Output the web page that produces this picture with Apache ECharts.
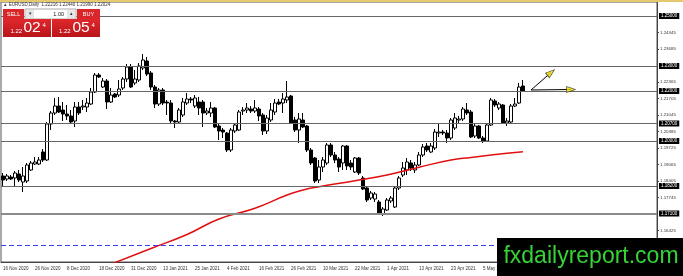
<!DOCTYPE html>
<html>
<head>
<meta charset="utf-8">
<title>EURUSD Daily</title>
<script src="https://cdn.jsdelivr.net/npm/echarts@6/dist/echarts.min.js"></script>
<style>
  html, body { margin: 0; padding: 0; background: #fff; }
  #main { width: 683px; height: 276px; }
</style>
</head>
<body>
<div id="main"></div>
<script>
// daily bars (index 0 = 16 Nov 2020)
var opens = [
  1.1860, 1.1848, 1.1856, 1.1852, 1.1868, 1.1836, 1.1840, 1.1884, 1.1908, 1.1908,
  1.1956, 1.1924, 1.2068, 1.2112, 1.2140, 1.2124, 1.2108, 1.2100, 1.2080, 1.2136,
  1.2136, 1.2136, 1.2148, 1.2196, 1.2264, 1.2216, 1.2240, 1.2156, 1.2188, 1.2184,
  1.2212, 1.2248, 1.2296, 1.2232, 1.2244, 1.2292, 1.2320, 1.2272, 1.2216, 1.2148,
  1.2204, 1.2156, 1.2152, 1.2080, 1.2076, 1.2104, 1.2152, 1.2168, 1.2140, 1.2156,
  1.2156, 1.2112, 1.2112, 1.2132, 1.2060, 1.2044, 1.2032, 1.1964, 1.2040, 1.2044,
  1.2120, 1.2124, 1.2128, 1.2120, 1.2128, 1.2104, 1.2040, 1.2084, 1.2116, 1.2156,
  1.2152, 1.2164, 1.2180, 1.2084, 1.2044, 1.2084, 1.2060, 1.1964, 1.1932, 1.1844,
  1.1896, 1.1912, 1.1984, 1.1944, 1.1928, 1.1912, 1.1980, 1.1912, 1.1876, 1.1932,
  1.1852, 1.1812, 1.1772, 1.1768, 1.1756, 1.1708, 1.1724, 1.1760, 1.1736, 1.1812,
  1.1864, 1.1884, 1.1912, 1.1884, 1.1904, 1.1944, 1.1980, 1.1956, 1.1972, 1.2032,
  1.2036, 1.2032, 1.2012, 1.2052, 1.2084, 1.2088, 1.2124, 1.2116, 1.2020, 1.2060,
  1.2012, 1.2000, 1.2064, 1.2160, 1.2132, 1.2144, 1.2072, 1.2076, 1.2140, 1.2152,
  1.2220
];
var closes = [
  1.1844, 1.1860, 1.1848, 1.1872, 1.1844, 1.1860, 1.1904, 1.1912, 1.1916, 1.1924,
  1.1924, 1.2068, 1.2112, 1.2140, 1.2116, 1.2108, 1.2100, 1.2076, 1.2136, 1.2112,
  1.2140, 1.2152, 1.2196, 1.2264, 1.2256, 1.2240, 1.2156, 1.2184, 1.2176, 1.2208,
  1.2248, 1.2296, 1.2216, 1.2248, 1.2300, 1.2324, 1.2268, 1.2216, 1.2148, 1.2204,
  1.2152, 1.2152, 1.2080, 1.2076, 1.2124, 1.2156, 1.2168, 1.2164, 1.2172, 1.2132,
  1.2112, 1.2120, 1.2132, 1.2056, 1.2040, 1.2036, 1.1964, 1.2044, 1.2064, 1.2116,
  1.2124, 1.2132, 1.2120, 1.2132, 1.2100, 1.2040, 1.2092, 1.2124, 1.2152, 1.2148,
  1.2168, 1.2176, 1.2072, 1.2044, 1.2088, 1.2056, 1.1964, 1.1912, 1.1840, 1.1896,
  1.1924, 1.1984, 1.1944, 1.1924, 1.1896, 1.1980, 1.1900, 1.1896, 1.1932, 1.1872,
  1.1808, 1.1764, 1.1792, 1.1788, 1.1712, 1.1728, 1.1764, 1.1772, 1.1812, 1.1852,
  1.1892, 1.1916, 1.1892, 1.1904, 1.1944, 1.1976, 1.1964, 1.1980, 1.2036, 1.2036,
  1.2032, 1.2012, 1.2084, 1.2092, 1.2088, 1.2128, 1.2112, 1.2016, 1.2060, 1.2012,
  1.2000, 1.2064, 1.2164, 1.2144, 1.2148, 1.2072, 1.2080, 1.2140, 1.2148, 1.2216,
  1.2200
];
var lows = [
  1.1816, 1.1840, 1.1844, 1.1816, 1.1836, 1.1796, 1.1832, 1.1880, 1.1904, 1.1904,
  1.1916, 1.1920, 1.2044, 1.2104, 1.2112, 1.2080, 1.2084, 1.2072, 1.2056, 1.2104,
  1.2124, 1.2116, 1.2144, 1.2192, 1.2252, 1.2212, 1.2128, 1.2152, 1.2172, 1.2176,
  1.2204, 1.2236, 1.2212, 1.2224, 1.2236, 1.2284, 1.2260, 1.2204, 1.2132, 1.2140,
  1.2144, 1.2104, 1.2068, 1.2052, 1.2072, 1.2096, 1.2144, 1.2152, 1.2132, 1.2104,
  1.2056, 1.2104, 1.2096, 1.2052, 1.2004, 1.2012, 1.1956, 1.1956, 1.2032, 1.2040,
  1.2104, 1.2112, 1.2112, 1.2112, 1.2080, 1.2024, 1.2028, 1.2076, 1.2104, 1.2144,
  1.2112, 1.2152, 1.2068, 1.2036, 1.1992, 1.2052, 1.1956, 1.1904, 1.1832, 1.1832,
  1.1876, 1.1904, 1.1936, 1.1912, 1.1876, 1.1884, 1.1884, 1.1884, 1.1872, 1.1864,
  1.1804, 1.1756, 1.1764, 1.1756, 1.1708, 1.1700, 1.1720, 1.1752, 1.1732, 1.1804,
  1.1856, 1.1864, 1.1880, 1.1872, 1.1900, 1.1936, 1.1956, 1.1952, 1.1964, 1.2016,
  1.2024, 1.1992, 1.2004, 1.2044, 1.2072, 1.2080, 1.2104, 1.2012, 1.2012, 1.2008,
  1.1992, 1.1996, 1.2060, 1.2136, 1.2124, 1.2068, 1.2060, 1.2072, 1.2136, 1.2148,
  1.2196
];
var highs = [
  1.1872, 1.1868, 1.1864, 1.1880, 1.1884, 1.1896, 1.1912, 1.1920, 1.1936, 1.1936,
  1.1968, 1.2076, 1.2120, 1.2172, 1.2176, 1.2156, 1.2144, 1.2124, 1.2156, 1.2156,
  1.2164, 1.2172, 1.2212, 1.2272, 1.2272, 1.2252, 1.2248, 1.2212, 1.2192, 1.2244,
  1.2256, 1.2308, 1.2308, 1.2284, 1.2312, 1.2348, 1.2336, 1.2280, 1.2224, 1.2212,
  1.2212, 1.2164, 1.2164, 1.2084, 1.2132, 1.2172, 1.2192, 1.2176, 1.2184, 1.2176,
  1.2164, 1.2132, 1.2156, 1.2136, 1.2068, 1.2052, 1.2036, 1.2052, 1.2072, 1.2124,
  1.2136, 1.2152, 1.2140, 1.2164, 1.2136, 1.2112, 1.2104, 1.2152, 1.2168, 1.2168,
  1.2192, 1.2240, 1.2184, 1.2096, 1.2112, 1.2112, 1.2064, 1.1972, 1.1936, 1.1924,
  1.1936, 1.1992, 1.1992, 1.1956, 1.1936, 1.1984, 1.1984, 1.1924, 1.1936, 1.1936,
  1.1860, 1.1816, 1.1800, 1.1796, 1.1764, 1.1736, 1.1772, 1.1780, 1.1816, 1.1860,
  1.1916, 1.1932, 1.1924, 1.1916, 1.1956, 1.1988, 1.1992, 1.1992, 1.2048, 1.2072,
  1.2044, 1.2044, 1.2092, 1.2112, 1.2100, 1.2136, 1.2152, 1.2124, 1.2068, 1.2064,
  1.2020, 1.2072, 1.2172, 1.2168, 1.2156, 1.2148, 1.2092, 1.2148, 1.2172, 1.2232,
  1.2244
];

// red moving average, [bar index, price]
var maPoints = [
  [25, 1.1495], [37, 1.1570], [46, 1.1626], [54, 1.1688], [63, 1.1731],
  [71, 1.1784], [75, 1.1804], [79, 1.1817], [88, 1.1841], [96, 1.1864],
  [104, 1.1895], [112, 1.1924], [117, 1.1934], [122, 1.1944], [130, 1.1957]
];

// horizontal levels drawn on the chart
var levels = [1.2500, 1.2300, 1.2200, 1.2070, 1.2000, 1.1820];
var strongLevel = 1.1710;
var blueLevel = 1.1584;

// price scale labels on the right
var yTicks = [1.16425, 1.17745, 1.18405, 1.19065, 1.19725, 1.20385,
              1.21045, 1.21705, 1.22365, 1.23685, 1.24345];

// projection arrows: [start, end] as [bar index, price]
var arrowUp = [[132, 1.2204], [137, 1.2274]];
var arrowFlat = [[132, 1.2204], [142, 1.2206]];

var firstDay = '2020-11-16';
var missingDays = ['2020-12-25', '2021-01-01'];
var barCount = 164;

var months = ['Jan','Feb','Mar','Apr','May','Jun','Jul','Aug','Sep','Oct','Nov','Dec'];
function buildDays() {
  var out = [];
  var d = new Date(firstDay + 'T00:00:00Z');
  while (out.length < barCount) {
    var wd = d.getUTCDay();
    var iso = d.toISOString().slice(0, 10);
    if (wd !== 0 && wd !== 6 && missingDays.indexOf(iso) < 0) {
      out.push(d.getUTCDate() + ' ' + months[d.getUTCMonth()] + ' ' + d.getUTCFullYear());
    }
    d.setUTCDate(d.getUTCDate() + 1);
  }
  return out;
}
var days = buildDays();

var candles = opens.map(function (o, i) {
  return [o, closes[i], lows[i], highs[i]];
});

var levelLabel = {
  show: true, position: 'end', distance: 2,
  formatter: function (p) { return Number(p.value).toFixed(5); },
  color: '#fff', backgroundColor: '#000', fontSize: 4.5,
  fontFamily: 'Liberation Sans', padding: [1, 2, 0, 2]
};
var levelLines = levels.map(function (v) {
  return { yAxis: v, lineStyle: { color: '#666', width: 1, type: 'solid' }, label: levelLabel };
});
levelLines.push({ yAxis: strongLevel, lineStyle: { color: '#8a8a8a', width: 2, type: 'solid' }, label: levelLabel });

var myChart = echarts.init(document.getElementById('main'));

var option = {
  animation: false,
  backgroundColor: '#fff',
  grid: {
    left: 1, right: 26, top: 2, bottom: 14,
    show: true, borderColor: '#555', borderWidth: 1
  },
  xAxis: {
    type: 'category',
    data: days,
    boundaryGap: true,
    axisLine: { lineStyle: { color: '#444' } },
    axisTick: {
      alignWithLabel: true, length: 2,
      interval: function (i) { return i % 8 === 0; },
      lineStyle: { color: '#444' }
    },
    axisLabel: {
      interval: function (i) { return i % 8 === 0; },
      align: 'left', fontSize: 4.5, color: '#333', margin: 4,
      fontFamily: 'Liberation Sans'
    },
    splitLine: { show: false }
  },
  yAxis: {
    type: 'value',
    position: 'right',
    min: 1.1516, max: 1.2556,
    axisLine: { show: true, lineStyle: { color: '#444' } },
    axisTick: { show: true, customValues: yTicks, length: 2, lineStyle: { color: '#444' } },
    axisLabel: {
      customValues: yTicks, fontSize: 4.4, color: '#333', margin: 3,
      fontFamily: 'Liberation Sans',
      formatter: function (v) { return v.toFixed(5); }
    },
    splitLine: { show: false }
  },
  series: [
    {
      type: 'candlestick',
      data: candles,
      barWidth: 3,
      itemStyle: {
        color: '#fff', color0: '#000',
        borderColor: '#000', borderColor0: '#000', borderWidth: 1
      },
      markLine: {
        silent: true, symbol: 'none', animation: false, precision: 5,
        data: levelLines
      },
      z: 3
    },
    {
      // blue dashed level, kept in its own series so its style is not merged
      type: 'line',
      data: [],
      markLine: {
        silent: true, symbol: 'none', animation: false, precision: 5,
        lineStyle: { color: '#3c3cf0', width: 1.2, type: [5, 3], opacity: 1 },
        label: Object.assign({}, levelLabel, { backgroundColor: '#6b6be0' }),
        data: [{ yAxis: blueLevel }]
      },
      z: 3
    },
    {
      type: 'line',
      data: maPoints,
      smooth: true,
      showSymbol: false,
      lineStyle: { color: '#e01010', width: 1.5 },
      z: 4
    },
    {
      type: 'line',
      data: arrowUp,
      showSymbol: false,
      lineStyle: { color: '#000', width: 1 },
      z: 5
    },
    {
      type: 'line',
      data: arrowFlat,
      showSymbol: false,
      lineStyle: { color: '#000', width: 1 },
      z: 5
    },
    {
      type: 'scatter',
      data: [
        { value: arrowUp[1], symbolRotate: -50 },
        { value: arrowFlat[1], symbolRotate: -90 }
      ],
      symbol: 'triangle',
      symbolSize: [6, 9],
      itemStyle: { color: '#f2e200', borderColor: '#333', borderWidth: 0.8 },
      z: 6
    }
  ],
  graphic: [
    { type: 'rect', shape: { x: 0, y: 0, width: 683, height: 2 }, style: { fill: '#e4c96e' }, z: 20 },
    { type: 'text', x: 3, y: 2.5, style: { text: '\u25B2 EURUSD,Daily  1.22216 1.22440 1.21990 1.22024', fontSize: 4.5, fill: '#333', fontFamily: 'Liberation Sans' }, z: 20 },
    // one click trading panel
    { type: 'rect', shape: { x: 3, y: 9, width: 21, height: 10 }, style: { fill: '#d8262b' }, z: 20 },
    { type: 'text', x: 13.5, y: 14, style: { text: 'SELL', fontSize: 5.5, fill: '#fff', align: 'center', verticalAlign: 'middle', fontFamily: 'Liberation Sans' }, z: 21 },
    { type: 'rect', shape: { x: 25, y: 9, width: 51, height: 10 }, style: { fill: '#fff', stroke: '#aaa', lineWidth: 1 }, z: 20 },
    { type: 'rect', shape: { x: 26, y: 10, width: 8, height: 8 }, style: { fill: '#e6e6e6' }, z: 21 },
    { type: 'text', x: 30, y: 14, style: { text: '\u25BE', fontSize: 5, fill: '#333', align: 'center', verticalAlign: 'middle' }, z: 22 },
    { type: 'text', x: 64, y: 14, style: { text: '1.00', fontSize: 5.5, fill: '#111', align: 'right', verticalAlign: 'middle', fontFamily: 'Liberation Sans' }, z: 21 },
    { type: 'rect', shape: { x: 67, y: 10, width: 8, height: 8 }, style: { fill: '#e6e6e6' }, z: 21 },
    { type: 'text', x: 71, y: 14, style: { text: '\u25B4', fontSize: 5, fill: '#333', align: 'center', verticalAlign: 'middle' }, z: 22 },
    { type: 'rect', shape: { x: 77, y: 9, width: 23, height: 10 }, style: { fill: '#d8262b' }, z: 20 },
    { type: 'text', x: 88.5, y: 14, style: { text: 'BUY', fontSize: 5.5, fill: '#fff', align: 'center', verticalAlign: 'middle', fontFamily: 'Liberation Sans' }, z: 21 },
    {
      type: 'rect', shape: { x: 3, y: 19, width: 48, height: 18 },
      style: { fill: new echarts.graphic.LinearGradient(0, 0, 0, 1, [{ offset: 0, color: '#e0282d' }, { offset: 1, color: '#b8151a' }]) }, z: 20
    },
    {
      type: 'rect', shape: { x: 52, y: 19, width: 48, height: 18 },
      style: { fill: new echarts.graphic.LinearGradient(0, 0, 0, 1, [{ offset: 0, color: '#e0282d' }, { offset: 1, color: '#b8151a' }]) }, z: 20
    },
    { type: 'text', x: 10.5, y: 34, style: { text: '1.22', fontSize: 6, fill: '#fff', verticalAlign: 'bottom', fontFamily: 'Liberation Sans' }, z: 21 },
    { type: 'text', x: 23.5, y: 36, style: { text: '02', fontSize: 15.5, fill: '#fff', verticalAlign: 'bottom', fontFamily: 'Liberation Sans' }, z: 21 },
    { type: 'text', x: 42.5, y: 22, style: { text: '4', fontSize: 6, fill: '#fff', fontFamily: 'Liberation Sans' }, z: 21 },
    { type: 'text', x: 59, y: 34, style: { text: '1.22', fontSize: 6, fill: '#fff', verticalAlign: 'bottom', fontFamily: 'Liberation Sans' }, z: 21 },
    { type: 'text', x: 72.5, y: 36, style: { text: '05', fontSize: 15.5, fill: '#fff', verticalAlign: 'bottom', fontFamily: 'Liberation Sans' }, z: 21 },
    { type: 'text', x: 91.5, y: 22, style: { text: '4', fontSize: 6, fill: '#fff', fontFamily: 'Liberation Sans' }, z: 21 },
    // watermark
    { type: 'rect', shape: { x: 497, y: 238, width: 186, height: 38 }, style: { fill: '#000' }, z: 30 },
    { type: 'text', x: 591, y: 257, style: { text: 'fxdailyreport.com', fontSize: 23, fill: '#36d336', align: 'center', verticalAlign: 'middle', fontFamily: 'Liberation Sans' }, z: 31 }
  ]
};

myChart.setOption(option);
</script>
</body>
</html>
